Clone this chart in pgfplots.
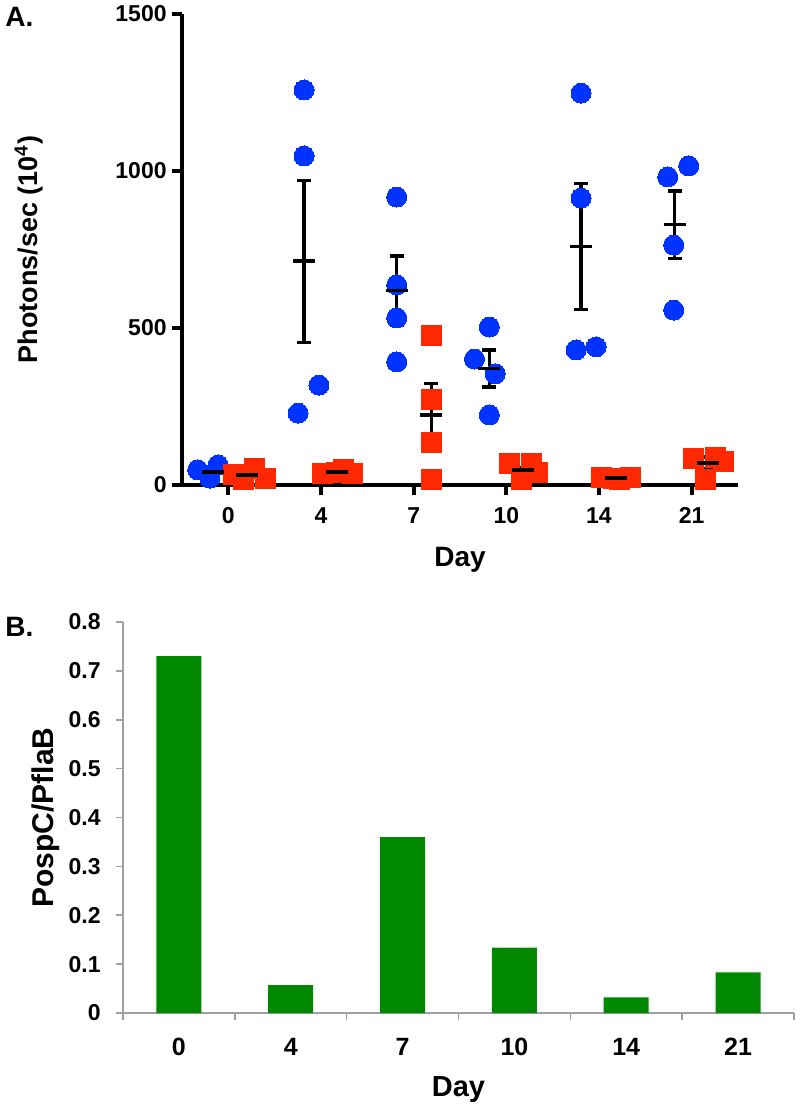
\documentclass[border=0pt]{standalone}
\usepackage{fontspec}
\setmainfont{Liberation Sans}
\usepackage{pgfplots}
\usepackage{pgfplotstable}
\pgfplotsset{compat=1.18}

\definecolor{dotblue}{RGB}{0,51,255}
\definecolor{sqred}{RGB}{255,40,0}
\definecolor{bargreen}{RGB}{0,136,0}
\definecolor{axgray}{RGB}{160,160,160}

\pgfplotstableread{
x y
-0.33 48
-0.20 22
-0.21 32
-0.11 64
0.817 1258
0.817 1048
0.753 229
0.978 318
1.817 917
1.817 637
1.817 532
1.817 392
2.817 503
2.656 401
2.880 354
2.817 223
3.806 1248
3.806 914
3.753 430
3.968 440
4.742 981
4.968 1016
4.806 764
4.806 557
}\bluedata

\pgfplotstableread{
x y
0.054 35
0.28 54
0.40 22
0.16 17
1.02 38
1.24 48
1.34 38
1.17 40
2.19 475
2.19 271
2.19 134
2.19 19
3.03 67
3.27 70
3.34 41
3.16 19
4.03 25
4.16 22
4.34 25
4.22 18
5.02 83
5.26 89
5.34 76
5.15 19
}\reddata

\pgfplotstableread{
x y e
-0.17 41 8
0.817 713 258
1.817 619 110
2.817 371 59
3.806 759 200
4.817 829 107
}\bluemean

\pgfplotstableread{
x y e
0.204 32 6
1.17 41 3
2.19 223 99
3.18 48 9
4.18 22 2
5.18 70 19
}\redmean

\begin{document}
\begin{tikzpicture}
\useasboundingbox (0,0) rectangle (400pt,555pt);

\node[anchor=base west, font=\fontsize{14}{16}\selectfont\bfseries, inner sep=0pt] at (2.5pt,541.5pt) {A.};
\node[anchor=base west, font=\fontsize{14}{16}\selectfont\bfseries, inner sep=0pt] at (2.5pt,236.5pt) {B.};

\begin{axis}[
  at={(91pt,312.5pt)}, anchor=south west,
  scale only axis, width=278pt, height=235.5pt,
  xmin=-0.5, xmax=5.5, ymin=0, ymax=1500,
  axis x line=bottom, axis y line=left,
  axis line style={line width=2pt, -},
  every outer x axis line/.append style={line width=2pt, -},
  every outer y axis line/.append style={line width=2pt, -},
  every inner x axis line/.append style={line width=2pt, -},
  every inner y axis line/.append style={line width=2pt, -},
  xtick={0,1,2,3,4,5}, xticklabels={0,4,7,10,14,21},
  ytick={0,500,1000,1500}, yticklabels={0,500,1000,1500},
  tick align=outside, major tick length=5pt,
  tick style={line width=2pt, black},
  every tick/.append style={line width=2pt, black},
  xticklabel style={font=\fontsize{11.5}{12}\selectfont\bfseries, anchor=base, yshift=-14.5pt},
  yticklabel style={font=\fontsize{11.5}{12}\selectfont\bfseries, anchor=east, inner sep=0pt, xshift=-2.5pt},
  xlabel={Day},
  xlabel style={at={(axis description cs:0.5,-0.1741)}, anchor=base, font=\fontsize{14}{16}\selectfont\bfseries},
  ylabel={Photons/sec (10\textsuperscript{4})},
  ylabel style={at={(axis description cs:-0.259,0.5)}, anchor=base, font=\fontsize{13.5}{15}\selectfont\bfseries},
  clip=false,
]
\addplot[only marks, color=dotblue, mark=*, mark size=5pt, mark options={fill=dotblue, draw=dotblue, line width=0pt}] table[x=x,y=y] {\bluedata};
\addplot[only marks, color=sqred, mark=square*, mark size=5pt, mark options={fill=sqred, draw=sqred, line width=0pt}] table[x=x,y=y] {\reddata};
\addplot[only marks, color=black, mark=-, mark size=5.5pt, mark options={line width=1.8pt, black},
  error bars/.cd, y dir=both, y explicit,
  error bar style={line width=1.6pt, black},
  error mark options={rotate=90, mark size=3.5pt, line width=1.6pt, black}]
  table[x=x,y=y,y error=e] {\bluemean};
\addplot[only marks, color=black, mark=-, mark size=5.5pt, mark options={line width=1.8pt, black},
  error bars/.cd, y dir=both, y explicit,
  error bar style={line width=1.6pt, black},
  error mark options={rotate=90, mark size=3.5pt, line width=1.6pt, black}]
  table[x=x,y=y,y error=e] {\redmean};
\end{axis}

\begin{axis}[
  at={(61.5pt,48.5pt)}, anchor=south west,
  scale only axis, width=335.5pt, height=195.5pt,
  xmin=-0.5, xmax=5.5, ymin=0, ymax=0.8,
  axis x line=bottom, axis y line=left,
  axis line style={axgray, line width=0.8pt, -},
  every outer x axis line/.append style={axgray, line width=0.8pt, -},
  every outer y axis line/.append style={axgray, line width=0.8pt, -},
  xtick={-0.5,0.5,1.5,2.5,3.5,4.5,5.5}, xticklabels={},
  extra x ticks={0,1,2,3,4,5}, extra x tick labels={0,4,7,10,14,21},
  extra x tick style={major tick length=0pt},
  ytick={0,0.1,0.2,0.3,0.4,0.5,0.6,0.7,0.8},
  yticklabels={0,0.1,0.2,0.3,0.4,0.5,0.6,0.7,0.8},
  tick align=outside, major tick length=3.5pt,
  tick style={axgray, line width=0.8pt},
  xticklabel style={font=\fontsize{12.5}{13}\selectfont\bfseries, anchor=base, yshift=-21pt},
  yticklabel style={font=\fontsize{11.5}{12}\selectfont\bfseries, anchor=east, inner sep=0pt, xshift=-7.5pt},
  xlabel={Day},
  xlabel style={at={(axis description cs:0.5,-0.2148)}, anchor=base, font=\fontsize{14.5}{16}\selectfont\bfseries},
  ylabel={PospC/PflaB},
  ylabel style={at={(axis description cs:-0.1043,0.5)}, anchor=base, font=\fontsize{15}{17}\selectfont\bfseries},
  clip=false,
]
\addplot[ybar, bar width=22.5pt, fill=bargreen, draw=none] coordinates {(0,0.73) (1,0.057) (2,0.36) (3,0.134) (4,0.032) (5,0.083)};
\end{axis}
\end{tikzpicture}
\end{document}
